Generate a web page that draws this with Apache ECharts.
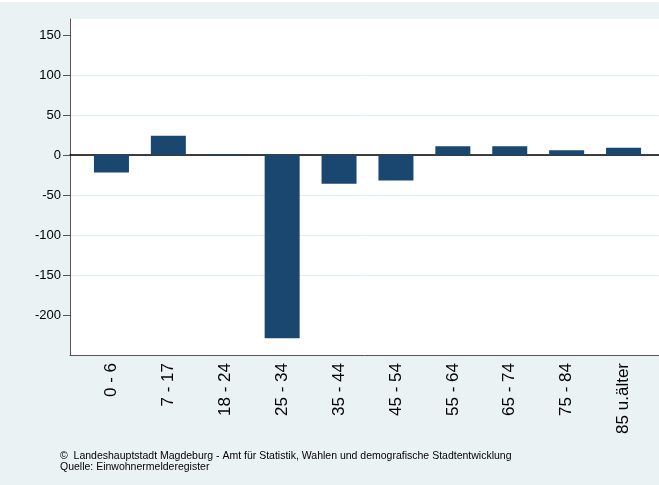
<!DOCTYPE html>
<html>
<head>
<meta charset="utf-8">
<script src="https://cdn.jsdelivr.net/npm/echarts@6/dist/echarts.min.js"></script>
<style>
html,body{margin:0;padding:0;background:#fff;}
#chart{width:659px;height:485px;}
</style>
</head>
<body>
<div id="chart"></div>
<script>
const categories = ['0 - 6','7 - 17','18 - 24','25 - 34','35 - 44','45 - 54','55 - 64','65 - 74','75 - 84','85 u.älter'];
const values = [-22, 24, 1, -229, -36, -32, 11, 11, 6, 9];
const yTickLabels = [-200, -150, -100, -50, 0, 50, 100, 150];
const footnote1 = '©  Landeshauptstadt Magdeburg - Amt für Statistik, Wahlen und demografische Stadtentwicklung';
const footnote2 = 'Quelle: Einwohnermelderegister';

const FONT = '"Liberation Sans", Arial, Helvetica, sans-serif';
const chart = echarts.init(document.getElementById('chart'), null, {renderer:'canvas'});
chart.setOption({
  backgroundColor: '#ffffff',
  animation: false,
  graphic: [
    {type:'rect', z:-10, silent:true, shape:{x:0,y:2,width:659,height:483}, style:{fill:'#eaf2f3'}},
    {type:'text', left:60, top:451, style:{text:footnote1, font:'10.5px ' + FONT, fill:'#000'}},
    {type:'text', left:60, top:462, style:{text:footnote2, font:'10.5px ' + FONT, fill:'#000'}}
  ],
  grid: [
    {left:70, right:0, top:19, bottom:130, show:true, backgroundColor:'#ffffff', borderWidth:0, z:-5},
    {left:83, width:569, top:19, bottom:130}
  ],
  xAxis: [
    {gridIndex:0, type:'value', min:0, max:1, position:'bottom',
     axisLine:{show:true, onZero:false, lineStyle:{color:'#555555', width:1}},
     axisTick:{show:false}, axisLabel:{show:false}, splitLine:{show:false}},
    {gridIndex:0, type:'value', min:0, max:1, position:'top',
     axisLine:{show:true, onZero:true, lineStyle:{color:'#000000', width:1.5}},
     axisTick:{show:false}, axisLabel:{show:false}, splitLine:{show:false}},
    {gridIndex:1, type:'category', data:categories, position:'bottom',
     axisLine:{show:false, onZero:false}, axisTick:{show:false}, splitLine:{show:false},
     axisLabel:{rotate:90, margin:8, fontSize:17, color:'#000', fontFamily:FONT, interval:0}}
  ],
  yAxis: [
    {gridIndex:0, type:'value', min:-250, max:170, interval:50,
     axisLine:{show:true, lineStyle:{color:'#555555', width:1}},
     axisTick:{show:true, length:7, lineStyle:{color:'#555555'}, customValues:yTickLabels},
     axisLabel:{fontSize:13, color:'#000', fontFamily:FONT, margin:9, customValues:yTickLabels},
     splitLine:{show:true, showMinLine:false, showMaxLine:false, lineStyle:{color:'#e3ecf3', width:1}}},
    {gridIndex:1, type:'value', min:-250, max:170, show:false}
  ],
  series: [
    {type:'bar', xAxisIndex:2, yAxisIndex:1, data:values, barWidth:35,
     itemStyle:{color:'#1a476f'}}
  ]
});
</script>
</body>
</html>
